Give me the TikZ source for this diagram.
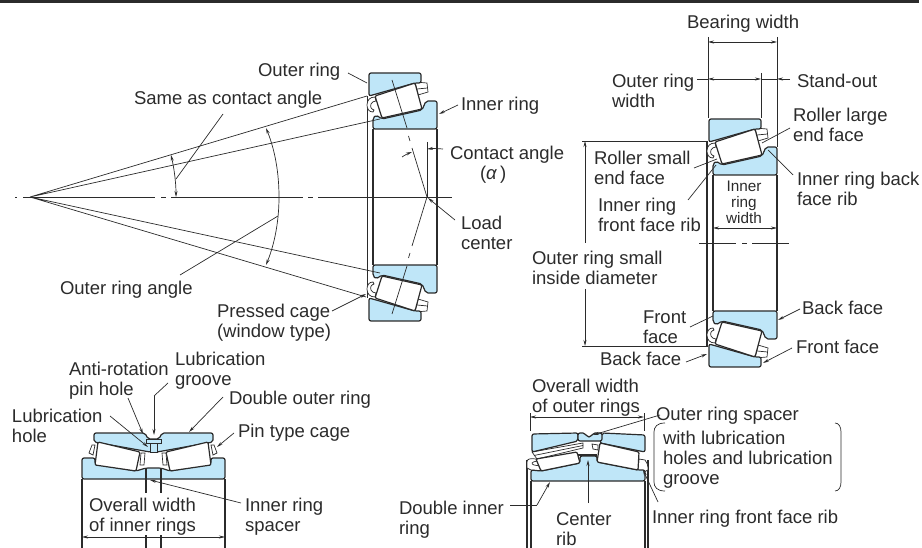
\documentclass[tikz,border=0pt]{standalone}
\usepackage{fontspec}
\setmainfont{Liberation Sans}
\usetikzlibrary{arrows.meta}
\definecolor{ringblue}{HTML}{BFE6F8}
\definecolor{ink}{HTML}{2B2B2B}
\def\s{\strut}
\tikzset{
  lab/.style={anchor=west,inner sep=0pt,outer sep=0pt,align=left,text=ink,yshift=-3.5pt,font=\fontsize{18.5}{20}\selectfont},
  smalllab/.style={anchor=center,inner sep=0pt,outer sep=0pt,align=center,text=ink,font=\fontsize{15.3}{16}\selectfont},
  thin line/.style={draw=ink,line width=0.7pt},
  ext line/.style={draw=ink,line width=0.9pt},
  leadr/.style={draw=ink,line width=0.7pt},
  tipped/.style={draw=ink,line width=0.7pt,-{Stealth[length=6pt,width=3pt]}},
  both/.style={draw=ink,line width=0.7pt,{Stealth[length=6pt,width=3pt]}-{Stealth[length=6pt,width=3pt]}},
  ringpart/.style={fill=ringblue,draw=ink,line width=1.2pt,rounded corners=2pt},
  rollerpart/.style={fill=white,draw=ink,line width=1.2pt,rounded corners=1.2pt},
  cagepart/.style={fill=white,draw=ink,line width=0.7pt},
  bore/.style={draw=ink,line width=1.3pt},
}
\newcommand{\halfbrg}{%
  \path[cagepart] (6,-100) .. controls (1,-100) and (-2,-97) .. (-2,-92)
     .. controls (-2,-88) and (0,-85) .. (4,-85) -- (5,-87)
     .. controls (2,-88) and (1,-90) .. (2,-93) .. controls (3,-95) and (5,-96) .. (7,-96) -- cycle;
  \path[cagepart] (46,-115) -- (58,-114) -- (59,-105) -- (49,-102) -- cycle;
  \draw[ink,line width=0.7pt] (48,-108) -- (58.5,-109);
  \path[ringpart] (0,-124) -- (52,-124) -- (52,-114) -- (46,-114) -- (0,-101) -- cycle;
  \path[ringpart] (4,-68) -- (68,-68) -- (68,-96) -- (57,-96) -- (53,-87) -- (13,-78) -- (7,-82) -- (4,-79) -- cycle;
  \path[rollerpart] (6,-101) -- (46,-114) -- (53,-88) -- (13,-79) -- cycle;
  \draw[bore] (4,-68) -- (4,0) (68,-68) -- (68,0);
}
\begin{document}
\begin{tikzpicture}[x=1pt,y=-1pt]
\useasboundingbox (0,0) rectangle (922,548);
\draw[ink,line width=3pt] (0,1.5) -- (919,1.5);

% ---- left main bearing
\draw[thin line] (367,96) -- (367,298);
\begin{scope}[shift={(369,197)}] \halfbrg \end{scope}
\begin{scope}[shift={(369,197)},yscale=-1] \halfbrg \end{scope}
% axis
\draw[thin line] (15,197) -- (17,197) (23,197) -- (155,197) (161,197) -- (166,197) (171,197) -- (303,197) (308,197) -- (313,197) (318,197) -- (452,197);
% apex rays
\draw[leadr] (30,197) -- (367,96) (30,197) -- (380,119) (30,197) -- (380,273) (30,197) -- (366,297);
% contact lines
\draw[thin line] (392,80) -- (407,128) (408.5,136) -- (410,141) (412,148) -- (427,197);
\draw[thin line] (392,314) -- (407,266) (408.5,258) -- (410,253) (412,246) -- (427,197);
\draw[thin line] (427,142) -- (427,197);
% angle marks
\draw[tipped] (402,157) .. controls (405,155) and (408,153.5) .. (412,152);
\draw[tipped] (443,149) .. controls (437,148.5) and (432,148.5) .. (427,149);
\draw[both] (171,155) .. controls (174,168) and (176,182) .. (176,197);
\draw[both] (266,128) .. controls (275,150) and (279,173) .. (279,197) .. controls (279,220) and (275,243) .. (266,265);
\draw[leadr] (223,114) -- (176,179);
\draw[leadr] (180,275) -- (278,216);
\draw[leadr] (348,73) -- (367,83);
\draw[tipped] (458,105) -- (439,114);
\draw[tipped] (455,220) -- (428,198);
\draw[tipped] (332,311) -- (366,294);

\node[lab] (outerA) at (258,69) {\s Outer ring};
\node[lab] (same) at (134,97) {\s Same as contact angle};
\node[lab] (innerA) at (461,103) {\s Inner ring};
\node[lab] (contact) at (450,152) {\s Contact angle};
\node[lab] (alpha) at (480,172) {\s(\textit{α}\,)};
\node[lab] (load) at (461,232) {\s Load\\\s center};
\node[lab] (orangle) at (60,287) {\s Outer ring angle};
\node[lab] (pressed) at (217,320) {\s Pressed cage\\\s(window type)};

% ---- right main bearing
\draw[bore] (707,141) -- (707,347);
\begin{scope}[shift={(709,243)}] \halfbrg \end{scope}
\begin{scope}[shift={(709,243)},yscale=-1] \halfbrg \end{scope}
\draw[thin line] (699,243) -- (736,243) (742,243) -- (747,243) (752,243) -- (789,243);
\draw[ext line] (708,37) -- (708,118);
\draw[ext line] (777,37) -- (777,147);
\draw[ext line] (761,73) -- (761,118);
\draw[both] (708,42) -- (777,42);
\draw[leadr] (697,79) -- (708,79);
\draw[both] (708,79) -- (761,79);
\draw[leadr] (761,79) -- (777,79);
\draw[tipped] (790,79) -- (777,79);
\draw[leadr] (790,128) -- (762,143);
\draw[leadr] (694,168) -- (717,159);
\draw[leadr] (688,200) -- (716,165);
\draw[leadr] (793,175) -- (768,150);
\draw[ext line] (582,141) -- (706,141);
\draw[ext line] (582,346) -- (706,346);
\draw[tipped] (585,243) -- (585,141);
\draw[tipped] (585,289) -- (585,346);
\draw[both] (713,228) -- (777,228);
\draw[leadr] (690,327) -- (713,316);
\draw[tipped] (800,309) -- (778,320);
\draw[tipped] (792,348) -- (763,363);
\draw[tipped] (686,362) -- (707,354);

\node[lab] (bw) at (687,21) {\s Bearing width};
\node[lab] (orw) at (612,90) {\s Outer ring\\\s width};
\node[lab] (stand) at (797,80) {\s Stand-out};
\node[lab] (rlarge) at (793,124) {\s Roller large\\\s end face};
\node[lab] (rsmall) at (594,167) {\s Roller small\\\s end face};
\node[lab] (backrib) at (797,188) {\s Inner ring back\\\s face rib};
\node[lab] (frontrib) at (598,214) {\s Inner ring\\\s front face rib};
\node[smalllab] (irw) at (744,202) {Inner\\ring\\width};
\node[lab] (smalldia) at (532,267) {\s Outer ring small\\\s inside diameter};
\node[lab] (fface) at (643,326) {\s Front\\\s face};
\node[lab] (bface) at (802,307) {\s Back face};
\node[lab] (fface2) at (796,346) {\s Front face};
\node[lab] (bface2) at (600,358) {\s Back face};

% ---- lower-left bearing
\path[cagepart] (92,445) -- (95,445) -- (93,455) -- (89,453) -- cycle;
\path[cagepart] (214,445) -- (217,453) -- (213,455) -- (211,445) -- cycle;
\path[ringpart] (94,433) -- (145,433) -- (148,439) -- (159,439) -- (162,433) -- (213,433) -- (213,442) -- (157,452) -- (150,452) -- (94,442) -- cycle;
\draw[ink,line width=0.9pt,fill=ringblue] (150,443) rectangle (157,452);
\draw[ink,line width=0.9pt] (146,439) rectangle (161,443);
\path[ringpart] (82,458) -- (95,458) -- (95,464) -- (136,471) -- (146,468) -- (161,468) -- (170,471) -- (211,464) -- (211,458) -- (225,458) -- (225,479) -- (82,479) -- cycle;
\path[rollerpart] (98,442) -- (140,452) -- (136,471) -- (95,465) -- cycle;
\path[rollerpart] (208,442) -- (166,452) -- (170,471) -- (211,465) -- cycle;
\path[cagepart] (141,453) -- (145,453) -- (144,465) -- (140,465) -- cycle;
\path[cagepart] (162,453) -- (166,453) -- (167,465) -- (163,465) -- cycle;
\draw[bore] (82,479) -- (82,548) (225,479) -- (225,548);
\draw[bore] (146,468) -- (146,493) (161,468) -- (161,493) (146,535) -- (146,548) (161,535) -- (161,548);
\draw[both] (82,537) -- (225,537);
\draw[leadr] (168,383) -- (154,396);
\draw[tipped] (154,396) -- (154,435);
\draw[tipped] (128,398) -- (143,434);
\draw[tipped] (110,416) -- (148,447);
\draw[tipped] (223,397) -- (189,432);
\draw[tipped] (234,433) -- (217,447);
\draw[tipped] (241,503) -- (150,480);

\node[lab] (lubg) at (175,368) {\s Lubrication\\\s groove};
\node[lab] (antirot) at (69,378) {\s Anti-rotation\\\s pin hole};
\node[lab] (lubh) at (12,425) {\s Lubrication\\\s hole};
\node[lab] (dor) at (229,397) {\s Double outer ring};
\node[lab] (pintype) at (238,430) {\s Pin type cage};
\node[lab] (owi) at (89,514) {\s Overall width\\\s of inner rings};
\node[lab] (irs) at (245,514) {\s Inner ring\\\s spacer};

% ---- lower-right bearing
\draw[bore] (527,460) -- (527,548) (648,460) -- (648,548) (531,481) -- (531,548) (645,481) -- (645,548);
\path[cagepart] (536,459) .. controls (530,458) and (527,459) .. (527,462) -- (527,468) -- (531,470) -- (541,471) -- (540,466) -- (534,465) .. controls (531,464) and (531,462) .. (537,461) -- cycle;
\path[cagepart] (639,459) -- (645,460) .. controls (647,462) and (648,465) .. (648,470) -- (644,472) -- (638,470) -- cycle;
\path[cagepart] (532,452) -- (583,443) -- (583,448) -- (537,459) -- cycle;
\draw[ink,line width=0.7pt] (534,455.5) -- (583,445.5);
\path[ringpart] (532,434) -- (578,433) -- (578,441) -- (532,452) -- cycle;
\path[ringpart] (602,433) -- (645,435) -- (645,452) -- (600,443) -- cycle;
\path[ringpart] (578,433) -- (585,433) -- (587,437) -- (591,437) -- (593,433) -- (602,433) -- (602,441) -- (578,441) -- cycle;
\path[ringpart] (531,470) -- (541,471) -- (580,463) -- (580,456) -- (597,456) -- (597,462) -- (638,470) -- (645,470) -- (645,481) -- (531,481) -- cycle;
\path[rollerpart] (536,459) -- (577,452) -- (580,463) -- (541,471) -- cycle;
\path[rollerpart] (600,443) -- (639,452) -- (638,470) -- (597,462) -- cycle;
\path[cagepart] (592,444) -- (598,445) -- (598,450) -- (593,449) -- cycle;
\draw[ink,line width=1.6pt] (578,455) -- (597,455);
\draw[ext line] (530,413) -- (530,431) (644,413) -- (644,431);
\draw[both] (530,417) -- (644,417);
\draw[tipped] (660,415) -- (593,435);
\draw[tipped] (588,503) -- (588,460);
\draw[leadr] (510,505) -- (537,505);
\draw[tipped] (537,505) -- (550,482);
\draw[tipped] (658,502) -- (643,470);
\draw[leadr] (665,423) .. controls (657,423) and (654,427) .. (654,432) -- (654,482) .. controls (654,487) and (657,491) .. (665,491);
\draw[leadr] (835,423) .. controls (839,423) and (841,427) .. (841,432) -- (841,482) .. controls (841,487) and (839,491) .. (835,491);

\node[lab] (owo) at (532,395) {\s Overall width\\\s of outer rings};
\node[lab] (ors) at (656,413) {\s Outer ring spacer};
\node[lab] (withlub) at (663,457) {\s with lubrication\\\s holes and lubrication\\\s groove};
\node[lab] (dir) at (399,517) {\s Double inner\\\s ring};
\node[lab,anchor=north west] (crib) at (556,508) {\s Center\\rib};
\node[lab] (irffr) at (652,516) {\s Inner ring front face rib};
\end{tikzpicture}
\end{document}
